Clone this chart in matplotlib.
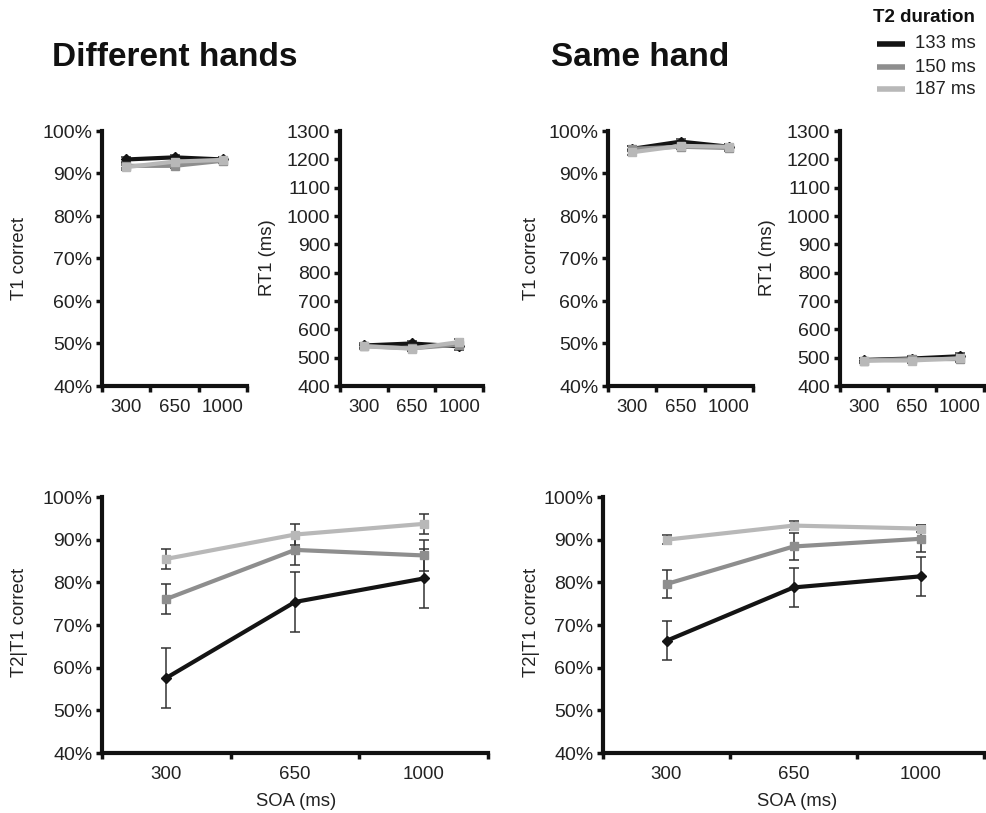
import matplotlib
matplotlib.use("Agg")
import matplotlib.pyplot as plt
from matplotlib.ticker import FuncFormatter, FixedLocator
import numpy as np

plt.rcParams['font.family'] = ['Liberation Sans', 'DejaVu Sans']

soa = ["300", "650", "1000"]
durations = ["133 ms", "150 ms", "187 ms"]
colors = ["#141414", "#8e8e8e", "#b8b8b8"]
markers = ["D", "s", "s"]

# Different hands
diff_t1 = [[93.3, 93.8, 93.3], [91.8, 91.8, 93.0], [91.5, 92.8, 93.2]]
diff_t1_err = [[0.6, 0.6, 0.6], [0.6, 0.6, 0.6], [0.6, 0.6, 0.6]]
diff_rt1 = [[543, 550, 540], [541, 533, 546], [540, 532, 555]]
diff_rt1_err = [[8, 8, 12], [8, 8, 10], [8, 8, 10]]
diff_t2 = [[57.6, 75.4, 80.9], [76.1, 87.6, 86.3], [85.5, 91.2, 93.7]]
diff_t2_err = [[7.0, 7.0, 7.0], [3.6, 3.5, 3.6], [2.4, 2.5, 2.4]]

# Same hand
same_t1 = [[95.8, 97.5, 96.3], [95.8, 96.3, 96.0], [95.0, 96.5, 96.3]]
same_t1_err = [[0.6, 0.6, 0.6], [0.6, 0.6, 0.6], [0.6, 0.6, 0.6]]
same_rt1 = [[492, 497, 505], [490, 495, 495], [490, 490, 498]]
same_rt1_err = [[8, 8, 12], [8, 8, 10], [8, 8, 10]]
same_t2 = [[66.3, 78.8, 81.4], [79.6, 88.4, 90.2], [90.0, 93.3, 92.6]]
same_t2_err = [[4.6, 4.6, 4.6], [3.3, 3.2, 3.2], [1.0, 1.0, 0.9]]

W, H = 986, 813
fig = plt.figure(figsize=(W / 100, H / 100), dpi=100)


def add_ax(left, right, top, bottom):
    return fig.add_axes([left / W, 1 - bottom / H, (right - left) / W, (bottom - top) / H])


def style(ax, ylim, yticks, pct):
    ax.set_xlim(-0.5, 2.5)
    ax.set_ylim(*ylim)
    for s in ["top", "right"]:
        ax.spines[s].set_visible(False)
    for s in ["left", "bottom"]:
        ax.spines[s].set_linewidth(3.0)
        ax.spines[s].set_color("#111111")
        ax.spines[s].set_capstyle("projecting")
    ax.xaxis.set_major_locator(FixedLocator([-0.5, 0.5, 1.5, 2.5]))
    ax.xaxis.set_minor_locator(FixedLocator([0, 1, 2]))
    ax.set_xticklabels([], minor=False)
    ax.set_xticklabels(soa, minor=True)
    ax.tick_params(axis="x", which="major", length=4, width=2.5, direction="out", color="#111111")
    ax.tick_params(axis="x", which="minor", length=0, pad=9, labelsize=13.5, labelcolor="#222222")
    ax.set_yticks(yticks)
    if pct:
        ax.yaxis.set_major_formatter(FuncFormatter(lambda v, p: f"{int(round(v))}%"))
    ax.tick_params(axis="y", length=4, width=2.5, direction="out", pad=3, labelsize=14,
                   labelcolor="#222222", color="#111111")
    ax.set_facecolor("none")


def draw(ax, vals, errs):
    x = np.arange(3)
    for i in range(3):
        ax.errorbar(x, vals[i], yerr=errs[i], fmt="none", ecolor="#333333",
                    elinewidth=1.1, capsize=3.5, capthick=1.1, zorder=2)
    for i in range(3):
        ax.plot(x, vals[i], color=colors[i], lw=3.0, marker=markers[i],
                ms=(5 if i == 0 else 6), mec=colors[i], mfc=colors[i],
                zorder=3 + i, solid_capstyle="butt")


pct_ticks = list(range(40, 101, 10))
rt_ticks = list(range(400, 1301, 100))

# Top panels
ax = add_ax(102, 247, 131, 386)
style(ax, (40, 100), pct_ticks, True)
draw(ax, diff_t1, diff_t1_err)
ax = add_ax(340, 483, 131, 386)
style(ax, (400, 1300), rt_ticks, False)
draw(ax, diff_rt1, diff_rt1_err)
ax = add_ax(608, 753, 131, 386)
style(ax, (40, 100), pct_ticks, True)
draw(ax, same_t1, same_t1_err)
ax = add_ax(840, 984, 131, 386)
style(ax, (400, 1300), rt_ticks, False)
draw(ax, same_rt1, same_rt1_err)

# Bottom panels
ax = add_ax(102, 488, 497, 753)
style(ax, (40, 100), pct_ticks, True)
draw(ax, diff_t2, diff_t2_err)
ax = add_ax(603, 984, 497, 753)
style(ax, (40, 100), pct_ticks, True)
draw(ax, same_t2, same_t2_err)

# Axis labels
def ftext(x, y, s, **kw):
    fig.text(x / W, 1 - y / H, s, **kw)

lab = dict(fontsize=13.3, color="#222222", ha="center", va="center")
ftext(20, 258, "T1 correct", rotation=90, **lab)
ftext(268, 258, "RT1 (ms)", rotation=90, **lab)
ftext(532, 258, "T1 correct", rotation=90, **lab)
ftext(768, 258, "RT1 (ms)", rotation=90, **lab)
ftext(20, 622, "T2|T1 correct", rotation=90, **lab)
ftext(531, 622, "T2|T1 correct", rotation=90, **lab)
ftext(296, 801, "SOA (ms)", **lab)
ftext(797, 801, "SOA (ms)", **lab)

# Titles
ftext(52, 58, "Different hands", fontsize=24, fontweight="bold", ha="left", va="center", color="#111111")
ftext(551, 58, "Same hand", fontsize=24, fontweight="bold", ha="left", va="center", color="#111111")

# Legend
ftext(975, 18, "T2 duration", fontsize=13.5, fontweight="bold", ha="right", va="center", color="#111111")
leg_y = [44, 67, 89]
for i in range(3):
    fig.add_artist(plt.Line2D([877 / W, 905 / W], [1 - leg_y[i] / H, 1 - leg_y[i] / H],
                              color=colors[i], lw=4, solid_capstyle="butt"))
    ftext(915, leg_y[i], durations[i], fontsize=13.3, ha="left", va="center", color="#222222")

fig.savefig("out.png", dpi=100)
